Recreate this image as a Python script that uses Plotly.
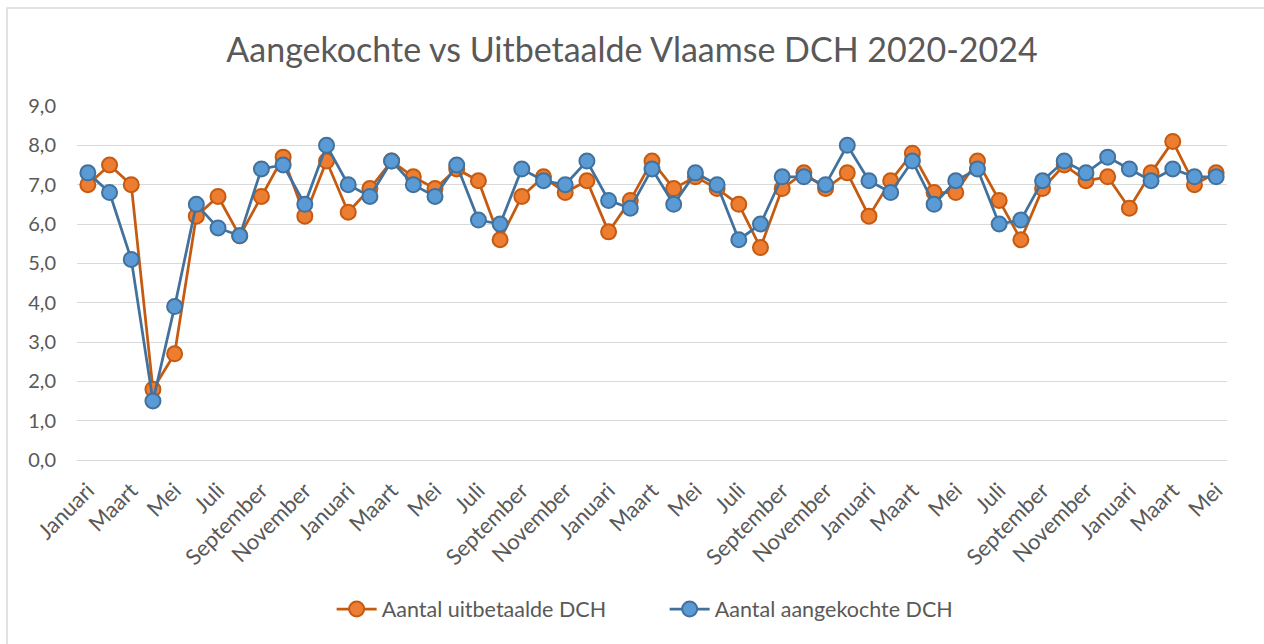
import plotly.graph_objects as go

month_cycle = ["Januari", "Februari", "Maart", "April", "Mei", "Juni", "Juli",
               "Augustus", "September", "Oktober", "November", "December"]
months = [month_cycle[i % 12] for i in range(53)]  # Jan 2020 .. May 2024

uitbetaalde = [7.0, 7.5, 7.0, 1.8, 2.7, 6.2, 6.7, 5.7, 6.7, 7.7, 6.2, 7.6,
               6.3, 6.9, 7.6, 7.2, 6.9, 7.4, 7.1, 5.6, 6.7, 7.2, 6.8, 7.1,
               5.8, 6.6, 7.6, 6.9, 7.2, 6.9, 6.5, 5.4, 6.9, 7.3, 6.9, 7.3,
               6.2, 7.1, 7.8, 6.8, 6.8, 7.6, 6.6, 5.6, 6.9, 7.5, 7.1, 7.2,
               6.4, 7.3, 8.1, 7.0, 7.3]
aangekochte = [7.3, 6.8, 5.1, 1.5, 3.9, 6.5, 5.9, 5.7, 7.4, 7.5, 6.5, 8.0,
               7.0, 6.7, 7.6, 7.0, 6.7, 7.5, 6.1, 6.0, 7.4, 7.1, 7.0, 7.6,
               6.6, 6.4, 7.4, 6.5, 7.3, 7.0, 5.6, 6.0, 7.2, 7.2, 7.0, 8.0,
               7.1, 6.8, 7.6, 6.5, 7.1, 7.4, 6.0, 6.1, 7.1, 7.6, 7.3, 7.7,
               7.4, 7.1, 7.4, 7.2, 7.2]

idx = list(range(len(months)))
tickvals = idx[::2]
ticktext = months[::2]

fig = go.Figure()
fig.add_trace(go.Scatter(
    x=idx, y=uitbetaalde, mode="lines+markers", name="Aantal uitbetaalde DCH",
    line=dict(color="#C55A11", width=2.75),
    marker=dict(size=15, color="#ED7D31", line=dict(color="#C55A11", width=2)),
    hovertext=months,
))
fig.add_trace(go.Scatter(
    x=idx, y=aangekochte, mode="lines+markers", name="Aantal aangekochte DCH",
    line=dict(color="#41719C", width=2.75),
    marker=dict(size=15, color="#5B9BD5", line=dict(color="#41719C", width=2)),
    hovertext=months,
))

font_family = "Lato"
fig.update_layout(
    width=1264, height=644,
    margin=dict(l=77, r=37, t=106, b=184),
    paper_bgcolor="white", plot_bgcolor="white",
    separators=",.",
    font=dict(family=font_family, color="#595959"),
    title=dict(text="Aangekochte vs Uitbetaalde Vlaamse DCH 2020-2024",
               x=0.5, xanchor="center", y=0.922, yanchor="middle",
               font=dict(size=34, color="#595959", family=font_family)),
    showlegend=True,
    legend=dict(orientation="h", x=0.511, xanchor="center", y=-0.421, yanchor="middle",
                font=dict(size=21.5, color="#595959"), itemwidth=40,
                entrywidth=278, traceorder="normal"),
    xaxis=dict(range=[-0.5, 52.5], tickvals=tickvals, ticktext=ticktext,
               tickangle=-45, showgrid=False, zeroline=False,
               showline=True, linecolor="#D9D9D9", linewidth=1,
               tickfont=dict(size=22, color="#595959"), ticks="",
               ticklabelstandoff=8),
    yaxis=dict(range=[0, 9], dtick=1, tickformat=".1f", showgrid=True,
               gridcolor="#D9D9D9", gridwidth=1, zeroline=False,
               tickfont=dict(size=20, color="#595959"), ticks="",
               ticklabelstandoff=20),
    shapes=[dict(type="rect", xref="paper", yref="paper",
                 x0=(7 - 77) / 1150, x1=(1270 - 77) / 1150,
                 y0=(460 - 650) / 354, y1=(460 - 8) / 354,
                 line=dict(color="#D9D9D9", width=1.5), fillcolor="rgba(0,0,0,0)",
                 layer="below")],
)

fig.write_html("out.html", config={"displayModeBar": False},
               post_script="document.body.style.margin='0';")
